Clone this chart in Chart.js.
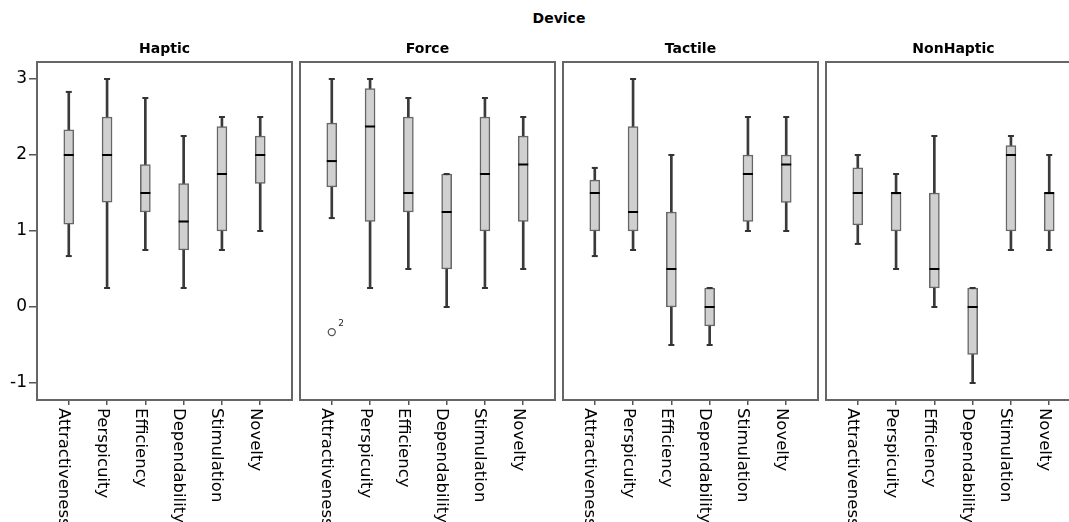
<!DOCTYPE html>
<html>
<head>
<meta charset="utf-8">
<title>Device</title>
<script src="https://cdn.jsdelivr.net/npm/chart.js@4.4.1/dist/chart.umd.min.js"></script>
<style>
  html, body { margin: 0; padding: 0; background: #fff; overflow: hidden; }
  #wrap { position: relative; width: 1069px; height: 522px; overflow: hidden; background: #fff; }
  #wrap canvas { position: absolute; top: 0; }
  #heading {
    position: absolute; top: 9px; left: 459px; width: 200px;
    text-align: center; font: bold 14px 'DejaVu Sans', sans-serif;
    line-height: 18px; color: #000;
  }
</style>
</head>
<body>
<div id="wrap">
  <div id="heading">Device</div>
</div>
<script>
// Facets and the UEQ scales inside each facet
const devices = ['Haptic', 'Force', 'Tactile', 'NonHaptic'];
const categories = ['Attractiveness', 'Perspicuity', 'Efficiency', 'Dependability', 'Stimulation', 'Novelty'];
const valueTicks = [-1, 0, 1, 2, 3];

// Box-plot statistics: one row per device, one column per scale
const whiskerLow = [
  [0.67, 0.25, 0.75, 0.25, 0.75, 1.0],
  [1.17, 0.25, 0.5, 0.0, 0.25, 0.5],
  [0.67, 0.75, -0.5, -0.5, 1.0, 1.0],
  [0.83, 0.5, 0.0, -1.0, 0.75, 0.75]
];
const quartile1 = [
  [1.09, 1.38, 1.25, 0.75, 1.0, 1.625],
  [1.58, 1.125, 1.25, 0.5, 1.0, 1.125],
  [1.0, 1.0, 0.0, -0.25, 1.125, 1.375],
  [1.08, 1.0, 0.25, -0.625, 1.0, 1.0]
];
const medians = [
  [2.0, 2.0, 1.5, 1.125, 1.75, 2.0],
  [1.92, 2.375, 1.5, 1.25, 1.75, 1.875],
  [1.5, 1.25, 0.5, 0.0, 1.75, 1.875],
  [1.5, 1.5, 0.5, 0.0, 2.0, 1.5]
];
const quartile3 = [
  [2.33, 2.5, 1.875, 1.625, 2.375, 2.25],
  [2.42, 2.875, 2.5, 1.75, 2.5, 2.25],
  [1.67, 2.375, 1.25, 0.25, 2.0, 2.0],
  [1.83, 1.5, 1.5, 0.25, 2.125, 1.5]
];
const whiskerHigh = [
  [2.83, 3.0, 2.75, 2.25, 2.5, 2.5],
  [3.0, 3.0, 2.75, 1.75, 2.75, 2.5],
  [1.83, 3.0, 2.0, 0.25, 2.5, 2.5],
  [2.0, 1.75, 2.25, 0.25, 2.25, 2.0]
];

// Outlying cases (device index, scale index, value, case number)
const outlierDevice = [1];
const outlierCategory = [0];
const outlierValue = [-0.33];
const outlierLabel = ['2'];

Chart.defaults.font.family = "'DejaVu Sans', sans-serif";
Chart.defaults.color = '#000';

const AXIS_GREY = '#555';
const FRAME_GREY = '#666';

// Frame around each facet, rotated scale names and case numbers beside outliers
const facetDecor = {
  id: 'facetDecor',
  afterDatasetsDraw(chart) {
    const ctx = chart.ctx;
    chart.data.datasets.forEach((ds, di) => {
      if (!ds.caseLabels) return;
      const meta = chart.getDatasetMeta(di);
      ctx.save();
      ctx.fillStyle = '#222';
      ctx.font = "9px 'DejaVu Sans', sans-serif";
      ctx.textAlign = 'left';
      ctx.textBaseline = 'alphabetic';
      meta.data.forEach((pt, j) => {
        ctx.fillText(ds.caseLabels[j], pt.x + 6.5, pt.y - 6);
      });
      ctx.restore();
    });
  },
  afterDraw(chart) {
    const { ctx, chartArea: a } = chart;
    const xs = chart.scales.x;
    ctx.save();
    ctx.strokeStyle = FRAME_GREY;
    ctx.lineWidth = 2;
    ctx.strokeRect(a.left, a.top, a.right - a.left, a.bottom - a.top);

    ctx.fillStyle = '#000';
    ctx.font = "16.5px 'DejaVu Sans', sans-serif";
    ctx.textAlign = 'left';
    ctx.textBaseline = 'alphabetic';
    categories.forEach((name, i) => {
      const px = xs.getPixelForValue(i);
      ctx.save();
      ctx.translate(px - 9.5, a.bottom + 8);
      ctx.rotate(Math.PI / 2);
      ctx.fillText(name, 0, 0);
      ctx.restore();
    });
    ctx.restore();
  }
};

const wrap = document.getElementById('wrap');
const idx = categories.map((_, i) => i);

devices.forEach((device, d) => {
  const canvas = document.createElement('canvas');
  canvas.width = 300;
  canvas.height = 522;
  canvas.style.left = (263 * d) + 'px';
  wrap.appendChild(canvas);

  const firstFacet = d === 0;

  const outlierPoints = [];
  const outlierNames = [];
  outlierDevice.forEach((od, k) => {
    if (od === d) {
      outlierPoints.push({ x: outlierCategory[k], y: outlierValue[k] });
      outlierNames.push(outlierLabel[k]);
    }
  });

  new Chart(canvas, {
    type: 'bar',
    data: {
      datasets: [
        {
          type: 'bar',
          data: idx.map(i => ({ x: i, y: [whiskerLow[d][i], whiskerHigh[d][i]] })),
          backgroundColor: '#3a3a3a',
          borderWidth: 0,
          barThickness: 2,
          grouped: false,
          order: 5
        },
        {
          type: 'bar',
          data: idx.map(i => ({ x: i, y: [quartile1[d][i], quartile3[d][i]] })),
          backgroundColor: '#d0d0d0',
          borderColor: '#666',
          borderWidth: 1.5,
          borderSkipped: false,
          barThickness: 10,
          grouped: false,
          order: 4
        },
        {
          type: 'line',
          showLine: false,
          data: idx.flatMap(i => [{ x: i, y: whiskerLow[d][i] }, { x: i, y: whiskerHigh[d][i] }]),
          pointStyle: 'line',
          pointRadius: 3,
          pointBorderWidth: 2,
          pointBorderColor: '#333',
          borderColor: '#333',
          order: 3
        },
        {
          type: 'line',
          showLine: false,
          data: idx.map(i => ({ x: i, y: medians[d][i] })),
          pointStyle: 'line',
          pointRadius: 5,
          pointBorderWidth: 2,
          pointBorderColor: '#000',
          borderColor: '#000',
          order: 2
        },
        {
          type: 'line',
          showLine: false,
          data: outlierPoints,
          caseLabels: outlierNames,
          pointStyle: 'circle',
          pointRadius: 3.5,
          pointBorderWidth: 1.3,
          pointBorderColor: '#555',
          pointBackgroundColor: '#fff',
          borderColor: '#555',
          order: 1
        }
      ]
    },
    options: {
      responsive: false,
      devicePixelRatio: 1,
      animation: false,
      events: [],
      layout: { padding: { left: 0, right: 8, top: 0, bottom: 0 } },
      plugins: {
        legend: { display: false },
        tooltip: { enabled: false },
        title: {
          display: true,
          text: device,
          fullSize: false,
          color: '#000',
          font: { size: 14, weight: 'bold', lineHeight: '16px' },
          padding: { top: 41, bottom: 5 }
        }
      },
      scales: {
        x: {
          type: 'linear',
          offset: false,
          min: -0.83,
          max: categories.length - 1 + 0.83,
          afterBuildTicks(scale) { scale.ticks = idx.map(v => ({ value: v })); },
          afterFit(scale) { scale.height = 122; },
          ticks: { display: false },
          grid: {
            display: true, offset: false, drawOnChartArea: false, drawTicks: true,
            tickLength: 5, color: AXIS_GREY, lineWidth: 1.5
          },
          border: { display: false }
        },
        y: {
          type: 'linear',
          display: firstFacet,
          min: -1.2237,
          max: 3.2237,
          beginAtZero: false,
          afterBuildTicks(scale) { scale.ticks = valueTicks.map(v => ({ value: v })); },
          afterFit(scale) { scale.width = 37; },
          ticks: { color: '#000', font: { size: 17 }, padding: 2 },
          grid: {
            display: true, drawOnChartArea: false, drawTicks: true,
            tickLength: 8, color: AXIS_GREY, lineWidth: 1.5
          },
          border: { display: false }
        }
      }
    },
    plugins: [facetDecor]
  });
});
</script>
</body>
</html>
